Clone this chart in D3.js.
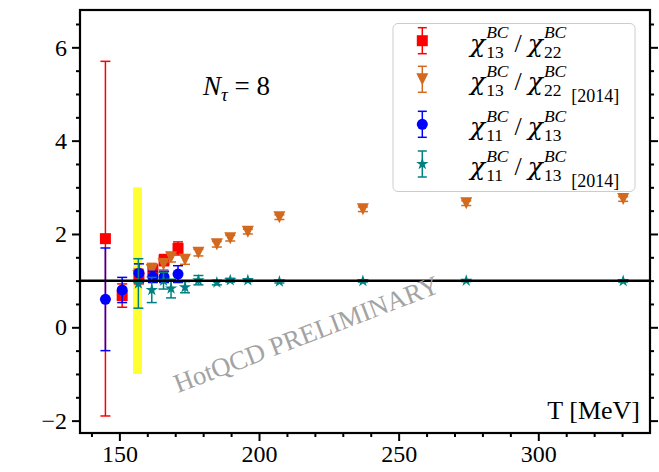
<!DOCTYPE html>
<html>
<head>
<meta charset="utf-8">
<script src="https://cdn.jsdelivr.net/npm/d3@7"></script>
<style>
  body { margin: 0; background: #fff; }
  svg text { font-family: "Liberation Serif", "DejaVu Serif", serif; }
</style>
</head>
<body>
<svg id="chart" width="659" height="472"></svg>
<script>
// new N_tau = 8 results
var tNew = [145, 151, 157, 162, 166, 171];
var r1322 = [1.9, 0.68, 1.08, 1.23, 1.44, 1.69];
var r1322Err = [3.8, 0.25, 0.15, 0.12, 0.12, 0.14];
var r1113 = [0.6, 0.8, 1.16, 1.08, 1.08, 1.14];
var r1113Err = [1.1, 0.27, 0.2, 0.12, 0.12, 0.18];

// 2014 results
var t2014 = [156.8, 161.6, 165.8, 168.5, 173.5, 178.3, 184.9, 189.7, 196.0, 207.3, 237.2, 274.2, 330.4];
var r1322Old = [1.1, 1.23, 1.35, 1.5, 1.45, 1.6, 1.78, 1.91, 2.05, 2.36, 2.53, 2.66, 2.75];
var r1322OldErr = [0.15, 0.14, 0.12, 0.1, 0.1, 0.07, 0.06, 0.06, 0.05, 0.05, 0.05, 0.05, 0.05];
var r1113Old = [0.94, 0.8, 1.0, 0.83, 0.86, 1.01, 0.96, 1.01, 1.01, 0.98, 0.99, 1.0, 0.99];
var r1113OldErr = [0.53, 0.27, 0.18, 0.2, 0.12, 0.1, 0.05, 0.04, 0.03, 0.03, 0.02, 0.02, 0.02];

var xTicks = [150, 200, 250, 300];
var yTicks = [-2, 0, 2, 4, 6];
var tpcBand = [154.9, 158.1];
var bandRange = [-1, 3];
var refLine = 1;

var svg = d3.select("#chart"),
  margin = {top: 10, left: 80, right: 9, bottom: 39},
  width = 659 - margin.left - margin.right,
  height = 472 - margin.top - margin.bottom,
  g = svg.append("g").attr("transform", "translate(" + margin.left + "," + margin.top + ")");

var x = d3.scaleLinear().domain([135.9, 340]).range([0, width]),
  y = d3.scaleLinear().domain([-2.265, 6.8]).range([height, 0]);

// yellow T_pc band
g.append("rect")
  .attr("x", x(tpcBand[0]))
  .attr("width", x(tpcBand[1]) - x(tpcBand[0]))
  .attr("y", y(bandRange[1]))
  .attr("height", y(bandRange[0]) - y(bandRange[1]))
  .attr("fill", "#ffff33");

// shapes
function squarePath(s) { return "M" + (-s) + "," + (-s) + "H" + s + "V" + s + "H" + (-s) + "Z"; }
function triDownPath(s) { return "M0," + (s) + "L" + (-s) + "," + (-s) + "L" + s + "," + (-s) + "Z"; }
function starPath(r) {
  var pts = [], ri = r * 0.38;
  for (var i = 0; i < 10; i++) {
    var a = -Math.PI / 2 + i * Math.PI / 5, rr = i % 2 ? ri : r;
    pts.push([rr * Math.cos(a), rr * Math.sin(a)]);
  }
  return "M" + pts.map(function(p) { return p[0].toFixed(2) + "," + p[1].toFixed(2); }).join("L") + "Z";
}

var series = [
  {t: tNew, v: r1322, e: r1322Err, color: "#ff0000", shape: squarePath(5.5), cap: 5},
  {t: t2014, v: r1322Old, e: r1322OldErr, color: "#d2691e", shape: triDownPath(6), cap: 5},
  {t: tNew, v: r1113, e: r1113Err, color: "#0000ff", circle: 5.5, cap: 5},
  {t: t2014, v: r1113Old, e: r1113OldErr, color: "#008080", shape: starPath(6.5), cap: 5}
];

series.forEach(function(s) {
  var pts = s.t.map(function(t, i) { return {t: t, v: s.v[i], e: s.e[i]}; });
  var sg = g.append("g");
  var eb = sg.selectAll(".eb").data(pts).enter().append("g")
    .attr("stroke", s.color).attr("stroke-width", 1.5);
  eb.append("line")
    .attr("x1", function(d) { return x(d.t); }).attr("x2", function(d) { return x(d.t); })
    .attr("y1", function(d) { return y(d.v + d.e); }).attr("y2", function(d) { return y(d.v - d.e); });
  [1, -1].forEach(function(sg2) {
    eb.append("line")
      .attr("x1", function(d) { return x(d.t) - s.cap; }).attr("x2", function(d) { return x(d.t) + s.cap; })
      .attr("y1", function(d) { return y(d.v + sg2 * d.e); }).attr("y2", function(d) { return y(d.v + sg2 * d.e); });
  });
  if (s.circle) {
    sg.selectAll(".m").data(pts).enter().append("circle")
      .attr("cx", function(d) { return x(d.t); }).attr("cy", function(d) { return y(d.v); })
      .attr("r", s.circle).attr("fill", s.color);
  } else {
    sg.selectAll(".m").data(pts).enter().append("path")
      .attr("d", s.shape)
      .attr("transform", function(d) { return "translate(" + x(d.t) + "," + y(d.v) + ")"; })
      .attr("fill", s.color);
  }
});

// reference line at 1
g.append("line")
  .attr("x1", 0).attr("x2", width)
  .attr("y1", y(refLine)).attr("y2", y(refLine))
  .attr("stroke", "#000").attr("stroke-width", 2.5);

// watermark
g.append("text")
  .attr("transform", "translate(" + (178 - margin.left) + "," + (393 - margin.top) + ") rotate(-21)")
  .attr("font-size", 26.5)
  .attr("fill", "#a3a3a3")
  .text("HotQCD PRELIMINARY");

// axes
g.append("g").attr("transform", "translate(0," + height + ")")
  .call(d3.axisBottom(x).tickValues(xTicks).tickSize(8).tickPadding(4));
g.append("g").attr("transform", "translate(0," + height + ")")
  .call(d3.axisBottom(x).tickValues(d3.range(140, 340, 10).filter(function(t) { return t % 50; })).tickSize(4).tickFormat(""));
var yAxis = g.append("g")
  .call(d3.axisLeft(y).tickValues(yTicks).tickSize(8).tickPadding(5).tickFormat(d3.format("")));
g.append("g")
  .call(d3.axisLeft(y).tickValues(d3.range(-2, 7, 0.5).filter(function(v) { return v % 2; })).tickSize(4).tickFormat(""));
g.append("g").attr("transform", "translate(" + width + ",0)")
  .call(d3.axisRight(y).tickValues(yTicks).tickSize(8).tickFormat(""));
g.append("g").attr("transform", "translate(" + width + ",0)")
  .call(d3.axisRight(y).tickValues(d3.range(-2, 7, 0.5).filter(function(v) { return v % 2; })).tickSize(4).tickFormat(""));

g.selectAll(".domain").remove();
g.selectAll(".tick line").attr("stroke", "#000").attr("stroke-width", 2);
g.selectAll(".tick text").attr("font-size", 24).attr("fill", "#000")
  .style("font-family", "'Liberation Serif', serif");
yAxis.selectAll(".tick text").text(function(d) { return d < 0 ? "\u2212" + Math.abs(d) : d; });

// frame
g.append("rect").attr("width", width).attr("height", height)
  .attr("fill", "none").attr("stroke", "#000").attr("stroke-width", 2.2);

// axis label inside
g.append("text")
  .attr("x", width - 10).attr("y", 419 - margin.top)
  .attr("text-anchor", "end").attr("font-size", 26)
  .text("T [MeV]");

// N_tau label
var nt = svg.append("text").attr("x", 203).attr("y", 95).attr("font-size", 27);
nt.append("tspan").attr("font-style", "italic").text("N");
nt.append("tspan").attr("font-style", "italic").attr("font-size", 19).attr("dy", 6).text("τ");
nt.append("tspan").attr("dy", -6).text(" = 8");

// legend
var lg = svg.append("g");
lg.append("rect")
  .attr("x", 393).attr("y", 23.5).attr("width", 242).attr("height", 168).attr("rx", 5)
  .attr("fill", "#fff").attr("fill-opacity", 0.8).attr("stroke", "#cccccc").attr("stroke-width", 1);

var labels = [
  {a: "13", b: "22", tag: false},
  {a: "13", b: "22", tag: true},
  {a: "11", b: "13", tag: false},
  {a: "11", b: "13", tag: true}
];
var rowY = [40.7, 79.3, 124.3, 164];

function mathLabel(x0, cy, lab) {
  var t = lg.append("g");
  function txt(xx, yy, s, size, it, fam) {
    var el = t.append("text").attr("x", xx).attr("y", yy).attr("font-size", size)
      .attr("font-style", it ? "italic" : "normal").text(s);
    if (fam) el.style("font-family", fam);
    return el.node().getComputedTextLength();
  }
  var cx = x0;
  cx += txt(cx, cy + 11, "χ", 25, true, "'DejaVu Serif', serif") + 1;
  var w1 = txt(cx, cy - 2.5, "BC", 17.5, true);
  var w2 = txt(cx, cy + 17, lab.a, 17.5, false);
  cx += Math.max(w1, w2) + 6;
  cx += txt(cx, cy + 11, "/", 26, false) + 6;
  cx += txt(cx, cy + 11, "χ", 25, true, "'DejaVu Serif', serif") + 1;
  w1 = txt(cx, cy - 2.5, "BC", 17.5, true);
  w2 = txt(cx, cy + 17, lab.b, 17.5, false);
  if (lab.tag) txt(cx + Math.max(w1, w2) + 5, cy + 22.5, "[2014]", 18, false);
}

series.forEach(function(s, i) {
  var cy = rowY[i], cx = 422.3;
  var m = lg.append("g").attr("stroke", s.color).attr("stroke-width", 1.5);
  m.append("line").attr("x1", cx).attr("x2", cx).attr("y1", cy - 13).attr("y2", cy + 13);
  m.append("line").attr("x1", cx - 4.5).attr("x2", cx + 4.5).attr("y1", cy - 13).attr("y2", cy - 13);
  m.append("line").attr("x1", cx - 4.5).attr("x2", cx + 4.5).attr("y1", cy + 13).attr("y2", cy + 13);
  if (s.circle) {
    lg.append("circle").attr("cx", cx).attr("cy", cy).attr("r", s.circle).attr("fill", s.color);
  } else {
    lg.append("path").attr("d", s.shape).attr("transform", "translate(" + cx + "," + cy + ")").attr("fill", s.color);
  }
  mathLabel(470, cy, labels[i]);
});
</script>
</body>
</html>
